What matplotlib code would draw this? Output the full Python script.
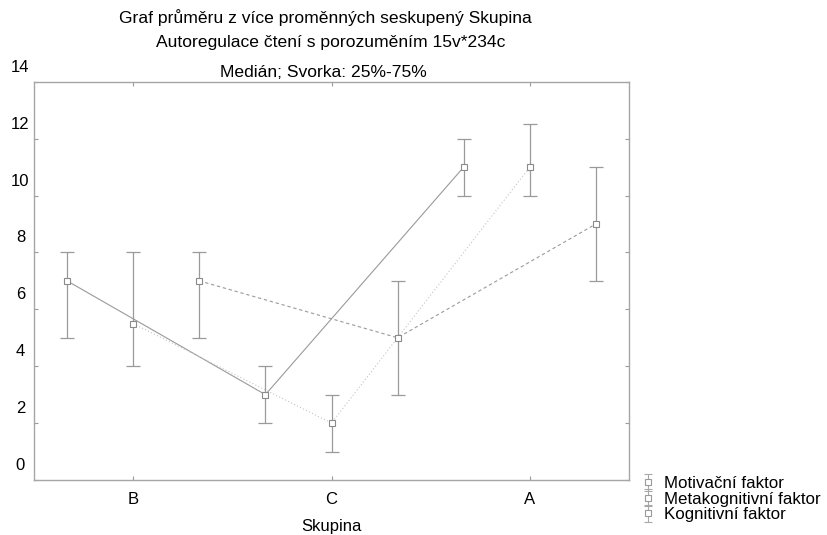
import numpy as np
import matplotlib
matplotlib.use("Agg")
import matplotlib.pyplot as plt
from matplotlib.transforms import ScaledTranslation, blended_transform_factory

plt.rcParams['font.family'] = ['Liberation Sans', 'DejaVu Sans']

categories = ["B", "C", "A"]
series_names = ["Motivační faktor", "Metakognitivní faktor", "Kognitivní faktor"]
medians = {
    "Motivační faktor":      [7.0, 3.0, 11.0],
    "Metakognitivní faktor": [5.5, 2.0, 11.0],
    "Kognitivní faktor":     [7.0, 5.0, 9.0],
}
q25 = {
    "Motivační faktor":      [5.0, 2.0, 10.0],
    "Metakognitivní faktor": [4.0, 1.0, 10.0],
    "Kognitivní faktor":     [5.0, 3.0, 7.0],
}
q75 = {
    "Motivační faktor":      [8.0, 4.0, 12.0],
    "Metakognitivní faktor": [8.0, 3.0, 12.5],
    "Kognitivní faktor":     [8.0, 7.0, 11.0],
}
yticks = [0, 2, 4, 6, 8, 10, 12, 14]

offsets = [-1/3, 0.0, 1/3]
line_styles = ['-', (0, (1, 2)), (0, (3, 2.5))]
line_colors = ['#9a9a9a', '#c4c4c4', '#9a9a9a']
err_color = '#9a9a9a'

fig = plt.figure(figsize=(8.27, 5.35), dpi=100)
ax = fig.add_axes([34/827, 1-480/535, (629-34)/827, (480-81.7)/535])

x = np.arange(len(categories))
for name, off, ls, lc in zip(series_names, offsets, line_styles, line_colors):
    m = np.array(medians[name]); lo = np.array(q25[name]); hi = np.array(q75[name])
    xs = x + off
    ax.plot(xs, m, linestyle=ls, color=lc, lw=0.8, zorder=2)
    ax.errorbar(xs, m, yerr=[m - lo, hi - m], fmt='none', ecolor=err_color,
                elinewidth=0.9, capsize=4.7, capthick=0.9, zorder=3)
    ax.plot(xs, m, linestyle='none', marker='s', markersize=4.6,
            markerfacecolor='white', markeredgecolor='#8a8a8a',
            markeredgewidth=0.8, zorder=4)

ax.set_xlim(-0.5, len(categories) - 0.5)
ax.set_ylim(0, 14)
ax.set_xticks(x)
ax.set_xticklabels(categories, fontsize=12)
ax.set_yticks(yticks)
ax.set_yticklabels([])
ax.tick_params(axis='both', direction='in', length=3, width=0.8, color='#9a9a9a',
               top=True, right=True)
ax.tick_params(axis='x', pad=9)
for s in ax.spines.values():
    s.set_color('#a6a6a6')
    s.set_linewidth(1.0)

# y tick labels (drawn shifted upward as in the reference)
trans = blended_transform_factory(fig.transFigure, ax.transData) + \
    ScaledTranslation(0, 14.5/100, fig.dpi_scale_trans)
for v in yticks:
    ax.text(20.5/827, v, str(v), transform=trans, ha='center', va='center',
            fontsize=12)

ax.set_xlabel("Skupina", fontsize=12, labelpad=8)

fig.text(325/827, 1-18/535, "Graf průměru z více proměnných seskupený Skupina",
         ha='center', va='center', fontsize=12.6)
fig.text(331/827, 1-43/535, "Autoregulace čtení s porozuměním 15v*234c",
         ha='center', va='center', fontsize=12.6)
fig.text(323/827, 1-72/535, "Medián; Svorka: 25%-75%",
         ha='center', va='center', fontsize=12.6)

# legend proxies
handles = []
for name in series_names:
    h = ax.errorbar([np.nan], [np.nan], yerr=[[np.nan], [np.nan]], fmt='s',
                    linestyle='none', color='#9a9a9a', ecolor='#a8a8a8',
                    markersize=4.2, markerfacecolor='white',
                    markeredgecolor='#9a9a9a', markeredgewidth=0.8,
                    elinewidth=0.8, capsize=3.0, capthick=0.8)
    handles.append(h)
leg = fig.legend(handles, series_names, loc='upper left',
                 bbox_to_anchor=(641/827, 1-476/535), frameon=False,
                 fontsize=12.2, handlelength=0.8, handletextpad=0.55,
                 labelspacing=0.03, borderpad=0.0, borderaxespad=0.0)

fig.savefig("out.png", dpi=100)
